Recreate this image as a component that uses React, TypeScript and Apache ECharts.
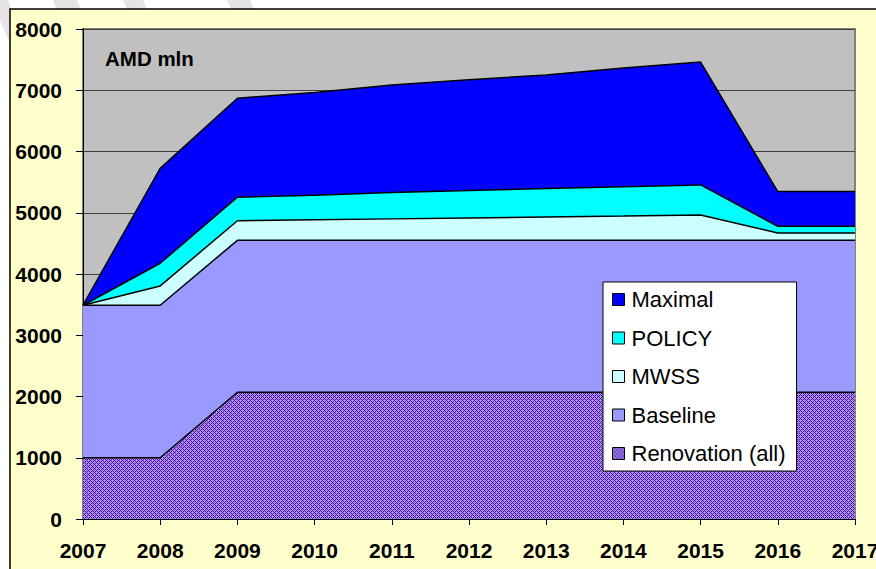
import React, { useEffect, useRef } from "react";
import * as echarts from "echarts";

const years = ["2007", "2008", "2009", "2010", "2011", "2012", "2013", "2014", "2015", "2016", "2017"];
const renovation = [1000, 1000, 2070, 2070, 2070, 2070, 2070, 2070, 2070, 2070, 2070];
const baseline = [2490, 2490, 2480, 2480, 2480, 2480, 2480, 2480, 2480, 2480, 2480];
const mwss = [0, 315, 320, 335, 350, 365, 380, 395, 413, 120, 120];
const policy = [0, 370, 385, 400, 430, 450, 465, 480, 492, 108, 108];
const maximal = [0, 1550, 1615, 1680, 1755, 1805, 1855, 1940, 2005, 567, 567];
const legendOrder = ["Maximal", "POLICY", "MWSS", "Baseline", "Renovation (all)"];

const FONT = 'Arial, "Liberation Sans", sans-serif';

function makePattern(): HTMLCanvasElement {
  const c = document.createElement("canvas");
  c.width = 4;
  c.height = 4;
  const ctx = c.getContext("2d")!;
  ctx.fillStyle = "#9999FF";
  ctx.fillRect(0, 0, 4, 4);
  ctx.fillStyle = "#660088";
  const purple = [[2, 0], [1, 1], [3, 1], [0, 2], [1, 3], [3, 3]];
  purple.forEach(([x, y]) => ctx.fillRect(x, y, 1, 1));
  return c;
}

export default function App() {
  const ref = useRef<HTMLDivElement>(null);
  useEffect(() => {
    if (!ref.current) return;
    const chart = echarts.init(ref.current, null, { renderer: "svg" });
    const pattern = { image: makePattern(), repeat: "repeat", imageWidth: 4, imageHeight: 4 } as any;
    const mk = (name: string, data: number[], color: any, z: number) => ({
      name,
      type: "line",
      stack: "total",
      data,
      symbol: "none",
      showSymbol: false,
      z,
      itemStyle: { color },
      lineStyle: { color: "#000", width: 1.5 },
      areaStyle: { color, opacity: 1 },
    });
    chart.setOption({
      animation: false,
      graphic: [
        { type: "polygon", z: -20, shape: { points: [[0, 0], [8, 0], [12, 12], [12, 48], [0, 20]] }, style: { fill: "#E4E4E4" } },
        { type: "polygon", z: -20, shape: { points: [[53, 0], [77, 0], [82, 12], [58, 12]] }, style: { fill: "#E4E4E4" } },
        { type: "polygon", z: -20, shape: { points: [[123, 0], [143, 0], [148, 12], [128, 12]] }, style: { fill: "#E4E4E4" } },
        { type: "polygon", z: -20, shape: { points: [[227, 0], [250, 0], [255, 12], [232, 12]] }, style: { fill: "#E4E4E4" } },
        { type: "rect", z: -10, shape: { x: 10, y: 9, width: 900, height: 600 }, style: { fill: "#FFFFCC", stroke: "#000", lineWidth: 1.5 } },
        { type: "text", z: 100, left: 105, top: 48, style: { text: "AMD mln", font: `bold 20.5px ${FONT}`, fill: "#000" } },
      ],
      grid: {
        left: 83,
        right: 21,
        top: 29,
        bottom: 50,
        show: true,
        outerBoundsMode: "none",
        containLabel: false,
        backgroundColor: "#C0C0C0",
        borderColor: "#808080",
        borderWidth: 2,
      },
      legend: {
        data: legendOrder,
        orient: "vertical",
        z: 50,
        left: 603,
        top: 282,
        icon: "rect",
        itemWidth: 12,
        itemHeight: 12,
        itemGap: 16.5,
        padding: [6.5, 11, 6.5, 9],
        backgroundColor: "#FFFFFF",
        borderColor: "#000",
        borderWidth: 1,
        itemStyle: { borderColor: "#000", borderWidth: 1 },
        textStyle: { fontSize: 22, fontFamily: FONT, color: "#000", lineHeight: 22, padding: [0, 0, 0, 2] },
      },
      xAxis: {
        type: "category",
        data: years,
        boundaryGap: false,
        axisLine: { lineStyle: { color: "#000", width: 1 } },
        axisTick: { show: true, length: 6, lineStyle: { color: "#000" } },
        axisLabel: { margin: 21, fontSize: 21, fontWeight: "bold", fontFamily: FONT, color: "#000", hideOverlap: false },
        splitLine: { show: false },
      },
      yAxis: {
        type: "value",
        min: 0,
        max: 8000,
        interval: 1000,
        axisLine: { show: true, lineStyle: { color: "#000", width: 1 } },
        axisTick: { show: true, length: 7, lineStyle: { color: "#000" } },
        axisLabel: { margin: 21, fontSize: 21, fontWeight: "bold", fontFamily: FONT, color: "#000", formatter: (v: number) => String(v) },
        splitLine: { show: true, lineStyle: { color: "#404040", width: 1 } },
      },
      series: [
        mk("Renovation (all)", renovation, pattern, 10),
        mk("Baseline", baseline, "#9999FF", 9),
        mk("MWSS", mwss, "#CCFFFF", 8),
        mk("POLICY", policy, "#00FFFF", 7),
        mk("Maximal", maximal, "#0000FF", 6),
      ],
    });
    return () => chart.dispose();
  }, []);
  return <div ref={ref} style={{ position: "absolute", left: 0, top: 0, width: 876, height: 569 }} />;
}
